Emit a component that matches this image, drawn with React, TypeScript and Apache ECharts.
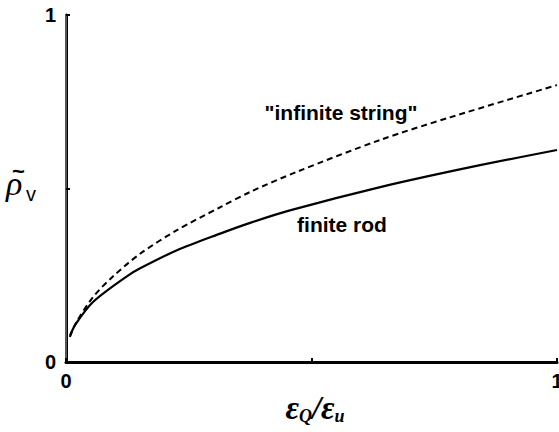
import React, { useEffect, useRef } from "react";
import * as echarts from "echarts";

// Values
const stringX = [0.008, 0.02, 0.055, 0.096, 0.151, 0.226, 0.314, 0.375, 0.47, 0.64, 0.782, 1.0];
const stringY = [0.072, 0.112, 0.187, 0.247, 0.312, 0.38, 0.446, 0.49, 0.548, 0.64, 0.705, 0.798];
const rodX = [0.008, 0.02, 0.055, 0.124, 0.151, 0.226, 0.314, 0.375, 0.456, 0.64, 0.819, 1.0];
const rodY = [0.076, 0.11, 0.173, 0.247, 0.27, 0.322, 0.37, 0.401, 0.437, 0.504, 0.56, 0.611];
const xTicks = [0, 0.5, 1];
const yTicks = [0, 0.5, 1];
const stringLabel = '"infinite string"';
const rodLabel = "finite rod";

export default function App() {
  const ref = useRef<HTMLDivElement>(null);
  useEffect(() => {
    if (!ref.current) return;
    const chart = echarts.init(ref.current, undefined, { renderer: "svg" });
    const lbl = (v: number) => (v === 0 || v === 1 ? String(v) : "");
    const tickFont = {
      fontFamily: "Liberation Sans",
      fontWeight: "bold" as const,
      fontSize: 20,
      color: "#000",
    };
    chart.setOption({
      animation: false,
      grid: {
        left: 66,
        top: 15,
        right: 2,
        bottom: 70,
        containLabel: false,
        outerBoundsMode: "none",
      },
      xAxis: [
        {
          type: "value",
          min: xTicks[0],
          max: xTicks[xTicks.length - 1],
          interval: 0.5,
          axisLine: { show: true, lineStyle: { color: "#000", width: 3 } },
          axisTick: { show: true, inside: true, length: 4, lineStyle: { color: "#000", width: 2 } },
          splitLine: { show: false },
          axisLabel: { ...tickFont, margin: 9, formatter: lbl },
        },
        {
          type: "value",
          position: "top",
          min: 0,
          max: 1,
          axisLine: { show: true, lineStyle: { color: "#000", width: 2 } },
          axisTick: { show: false },
          axisLabel: { show: false },
          splitLine: { show: false },
        },
      ],
      yAxis: [
        {
          type: "value",
          min: yTicks[0],
          max: yTicks[yTicks.length - 1],
          interval: 0.5,
          axisLine: { show: true, lineStyle: { color: "#000", width: 3 } },
          axisTick: { show: true, inside: true, length: 4, lineStyle: { color: "#000", width: 2 } },
          splitLine: { show: false },
          axisLabel: { ...tickFont, margin: 10, formatter: lbl },
        },
        {
          type: "value",
          position: "right",
          min: 0,
          max: 1,
          axisLine: { show: true, lineStyle: { color: "#555", width: 2 } },
          axisTick: { show: false },
          axisLabel: { show: false },
          splitLine: { show: false },
        },
      ],
      series: [
        {
          type: "line",
          name: "infinite string",
          data: stringX.map((x, i) => [x, stringY[i]]),
          smooth: 0.3,
          showSymbol: false,
          lineStyle: { color: "#000", width: 2, type: [6, 4] },
        },
        {
          type: "line",
          name: "finite rod",
          data: rodX.map((x, i) => [x, rodY[i]]),
          smooth: 0.3,
          showSymbol: false,
          lineStyle: { color: "#000", width: 2.2, type: "solid" },
        },
      ],
      graphic: [
        {
          type: "text",
          x: 341,
          y: 112,
          style: {
            text: stringLabel,
            fontFamily: "Liberation Sans",
            fontWeight: "bold",
            fontSize: 21,
            fill: "#000",
            align: "center",
            verticalAlign: "middle",
          },
        },
        {
          type: "text",
          x: 342,
          y: 224,
          style: {
            text: rodLabel,
            fontFamily: "Liberation Sans",
            fontWeight: "bold",
            fontSize: 21,
            fill: "#000",
            align: "center",
            verticalAlign: "middle",
          },
        },
        {
          type: "text",
          x: 315,
          y: 408,
          style: {
            text: "{e|ε}{s|Q}{e|/ε}{s|u}",
            align: "center",
            verticalAlign: "middle",
            rich: {
              e: {
                fontFamily: "Liberation Serif",
                fontStyle: "italic",
                fontWeight: "bold",
                fontSize: 33,
                fill: "#000",
              },
              s: {
                fontFamily: "Liberation Serif",
                fontStyle: "italic",
                fontWeight: "bold",
                fontSize: 18,
                fill: "#000",
                padding: [15, 0, 0, 0],
              },
            },
          },
        },
        {
          type: "text",
          x: 6,
          y: 166,
          style: {
            text: "ρ",
            fontFamily: "Liberation Serif",
            fontStyle: "italic",
            fontSize: 34,
            fill: "#000",
            align: "left",
            verticalAlign: "top",
          },
        },
        {
          type: "text",
          x: 12,
          y: 160,
          style: {
            text: "~",
            fontFamily: "Liberation Sans",
            fontWeight: "bold",
            fontSize: 22,
            fill: "#000",
            align: "left",
            verticalAlign: "top",
          },
        },
        {
          type: "text",
          x: 26,
          y: 184,
          style: {
            text: "v",
            fontFamily: "Liberation Sans",
            fontSize: 20,
            fill: "#000",
            align: "left",
            verticalAlign: "top",
          },
        },
      ],
    });
    return () => chart.dispose();
  }, []);
  return <div ref={ref} style={{ width: 559, height: 432, position: "absolute", left: 0, top: 0 }} />;
}
